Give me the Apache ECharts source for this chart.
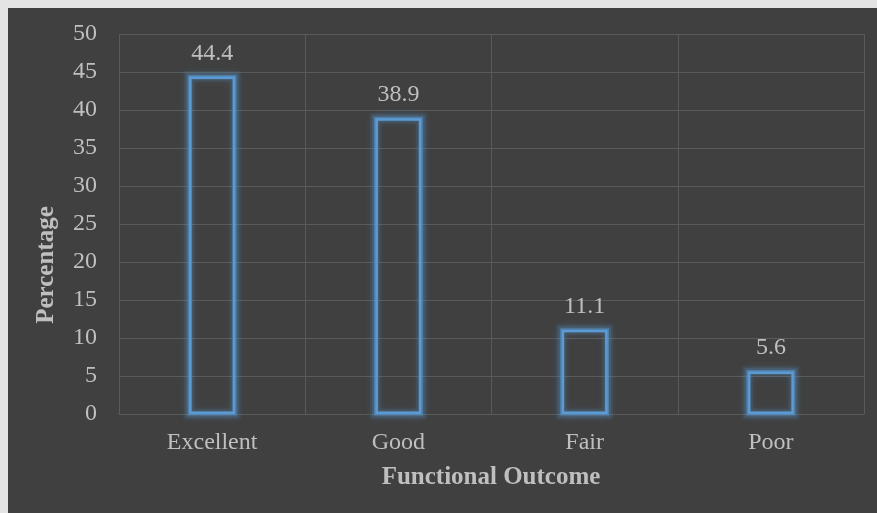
<!DOCTYPE html>
<html>
<head>
<meta charset="utf-8">
<script src="https://cdn.jsdelivr.net/npm/echarts@6/dist/echarts.min.js"></script>
<style>
  html, body { margin: 0; padding: 0; background: #e4e4e4; width: 877px; height: 513px; overflow: hidden; }
  #chart { position: absolute; left: 8px; top: 8px; width: 869px; height: 505px; background: #404040; }
</style>
</head>
<body>
<div id="chart"></div>
<script>
// Functional outcome distribution (percent of patients)
const categories = ['Excellent', 'Good', 'Fair', 'Poor'];
const percentages = [44.4, 38.9, 11.1, 5.6];
const yTicks = { min: 0, max: 50, interval: 5 };

const textColor = '#bfbfbf';
const gridColor = '#5a5a5a';
const barBlue = '#5b9bd5';
const serif = '"Liberation Serif", "Times New Roman", serif';
const fontSize = 24;
const titleSize = 25;
const barWidth = 46;

// Translucent outlines centred on each bar edge, widest first, for a soft glow
const glowLayers = [
  { width: 11, alpha: 0.10 },
  { width: 7, alpha: 0.16 }
];

function renderGlow(params, api) {
  const top = api.coord([api.value(0), api.value(1)]);
  const base = api.coord([api.value(0), 0]);
  const shape = { x: top[0] - barWidth / 2, y: top[1], width: barWidth, height: base[1] - top[1] };
  const children = glowLayers.map(g => ({
    type: 'rect',
    shape: shape,
    style: { fill: 'none', stroke: 'rgba(91,155,213,' + g.alpha + ')', lineWidth: g.width }
  }));
  children.push({
    type: 'rect',
    shape: shape,
    style: {
      fill: 'none',
      stroke: 'rgba(91,155,213,0.5)',
      lineWidth: 3,
      shadowBlur: 8,
      shadowColor: 'rgba(91,155,213,0.9)'
    }
  });
  return { type: 'group', children: children };
}

const chart = echarts.init(document.getElementById('chart'), null, { renderer: 'canvas' });
chart.setOption({
  backgroundColor: '#404040',
  animation: false,
  grid: { left: 111, right: 13, top: 26, bottom: 99, containLabel: false },
  xAxis: {
    type: 'category',
    data: categories,
    boundaryGap: true,
    axisLine: { show: true, lineStyle: { color: gridColor, width: 1 } },
    axisTick: { show: false },
    axisLabel: { color: textColor, fontFamily: serif, fontSize: fontSize, margin: 17 },
    splitLine: { show: true, lineStyle: { color: gridColor, width: 1 } }
  },
  yAxis: {
    type: 'value',
    min: yTicks.min,
    max: yTicks.max,
    interval: yTicks.interval,
    axisLine: { show: false },
    axisTick: { show: false },
    axisLabel: { color: textColor, fontFamily: serif, fontSize: fontSize, margin: 22 },
    splitLine: { show: true, lineStyle: { color: gridColor, width: 1 } }
  },
  graphic: [
    {
      type: 'text',
      x: 483,
      y: 470,
      style: { text: 'Functional Outcome', fill: textColor, font: 'bold ' + titleSize + 'px ' + serif, align: 'center', verticalAlign: 'middle' }
    },
    {
      type: 'text',
      x: 39,
      y: 257,
      rotation: Math.PI / 2,
      style: { text: 'Percentage', fill: textColor, font: 'bold ' + titleSize + 'px ' + serif, align: 'center', verticalAlign: 'middle' }
    }
  ],
  series: [
    {
      type: 'custom',
      silent: true,
      renderItem: renderGlow,
      data: percentages.map((v, i) => [i, v]),
      z: 1
    },
    {
      type: 'bar',
      data: percentages,
      barWidth: barWidth,
      z: 2,
      itemStyle: {
        color: 'none',
        borderColor: barBlue,
        borderWidth: 2.5
      },
      label: {
        show: true,
        position: 'top',
        distance: 10,
        color: textColor,
        fontFamily: serif,
        fontSize: fontSize,
        formatter: p => p.value.toFixed(1)
      }
    }
  ]
});
</script>
</body>
</html>
